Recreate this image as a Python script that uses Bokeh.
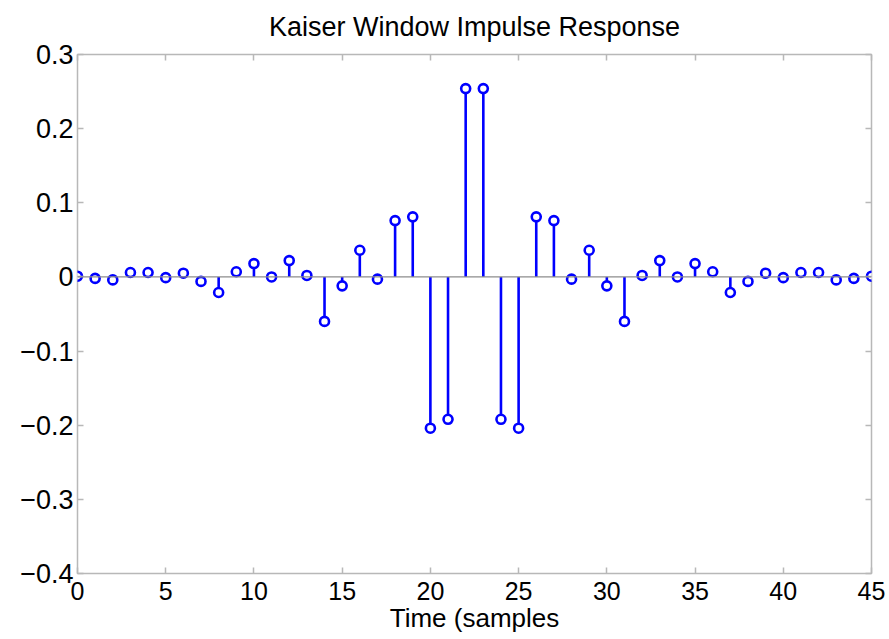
from bokeh.plotting import figure
from bokeh.models import LinearAxis, FixedTicker, Span, CustomJSTickFormatter
from bokeh.embed import file_html
from bokeh.resources import INLINE

# data
n = list(range(46))
h = [0.001, -0.002, -0.004, 0.006, 0.006, -0.001, 0.005, -0.006, -0.021, 0.007,
     0.018, 0.000, 0.022, 0.002, -0.060, -0.012, 0.036, -0.003, 0.076, 0.081,
     -0.204, -0.192, 0.254, 0.254, -0.192, -0.204, 0.081, 0.076, -0.003, 0.036,
     -0.012, -0.060, 0.002, 0.022, 0.000, 0.018, 0.007, -0.021, -0.006, 0.005,
     -0.001, 0.006, 0.006, -0.004, -0.002, 0.001]
x_ticks = [0, 5, 10, 15, 20, 25, 30, 35, 40, 45]
y_ticks = [-0.4, -0.3, -0.2, -0.1, 0, 0.1, 0.2, 0.3]
y_tick_labels = ["\u22120.4", "\u22120.3", "\u22120.2", "\u22120.1", "0", "0.1", "0.2", "0.3"]
title = "Kaiser Window Impulse Response"
xlabel = "Time (samples"

FONT = "Liberation Sans"
GRID = "#b8b8b8"

p = figure(width=889, height=639, output_backend="svg", toolbar_location=None,
           x_range=(0, 45), y_range=(-0.4, 0.3),
           min_border_left=77, min_border_right=18, min_border_top=53, min_border_bottom=66,
           x_axis_location=None, y_axis_location=None)
p.background_fill_color = "white"
p.border_fill_color = "white"
p.outline_line_color = GRID
p.outline_line_width = 1.5
p.grid.visible = False

p.title.text = title
p.title.text_font = FONT
p.title.text_font_size = "27px"
p.title.text_font_style = "normal"
p.title.align = "center"
p.title.vertical_align = "top"
p.title.text_color = "black"
p.title.standoff = 22

def style(ax, labels=True):
    ax.axis_line_color = None
    ax.major_tick_line_color = GRID
    ax.major_tick_line_width = 1.5
    ax.major_tick_in = 6
    ax.major_tick_out = 0
    ax.minor_tick_line_color = None
    ax.major_label_text_font = FONT
    ax.major_label_text_color = "black"
    if not labels:
        ax.formatter = CustomJSTickFormatter(code="return ''")
        ax.major_label_text_font_size = "1px"
        ax.major_label_standoff = 0

xb = LinearAxis(ticker=FixedTicker(ticks=x_ticks))
style(xb)
xb.major_label_text_font_size = "25px"
xb.major_label_standoff = 8
xb.axis_label = xlabel
xb.axis_label_text_font = FONT
xb.axis_label_text_font_size = "26px"
xb.axis_label_text_font_style = "normal"
xb.axis_label_text_color = "black"
xb.axis_label_standoff = 0
p.add_layout(xb, "below")

yl = LinearAxis(ticker=FixedTicker(ticks=y_ticks))
style(yl)
yl.major_label_text_font_size = "27px"
yl.major_label_standoff = 4
yl.major_label_overrides = {t: s for t, s in zip(y_ticks, y_tick_labels)}
p.add_layout(yl, "left")

xt = LinearAxis(ticker=FixedTicker(ticks=x_ticks))
style(xt, labels=False)
p.add_layout(xt, "above")

yr = LinearAxis(ticker=FixedTicker(ticks=y_ticks))
style(yr, labels=False)
p.add_layout(yr, "right")

# baseline
p.add_layout(Span(location=0, dimension="width", line_color="#8c8c8c", line_width=1.2))

# stems
p.segment(x0=n, y0=[0] * len(n), x1=n, y1=h, line_color="#0000ff", line_width=2.6)
p.scatter(x=n, y=h, size=9, marker="circle", line_color="#0000ff", line_width=2.6,
          fill_color="white")

open("out.html", "w").write(file_html(p, INLINE))
